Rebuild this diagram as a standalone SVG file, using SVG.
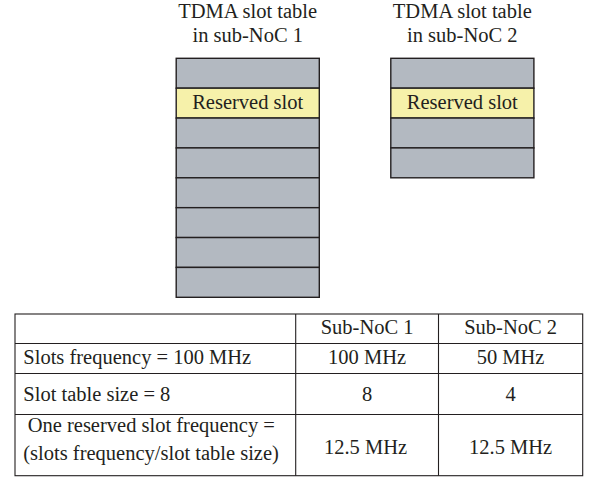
<svg xmlns="http://www.w3.org/2000/svg" width="589" height="477" viewBox="0 0 589 477">
  <style>
    text { font-family: "Liberation Serif", "Times New Roman", serif; font-size: 20.5px; fill: #231f20; }
    .mid { text-anchor: middle; }
    .slot { fill: #b3b9c1; stroke: #231f20; stroke-width: 1.4; }
    .reserved { fill: #f6f1aa; stroke: #231f20; stroke-width: 1.4; }
    .grid { stroke: #231f20; stroke-width: 1.1; fill: none; }
  </style>
  <rect width="589" height="477" fill="#ffffff"/>

  <!-- slot table of sub-NoC 1: eight slots, the second one reserved -->
  <g id="slot-table-1">
    <text class="mid" x="247.7" y="18.3">TDMA slot table</text>
    <text class="mid" x="247.7" y="41.7">in sub-NoC 1</text>
    <rect class="slot" x="176.2" y="58.3" width="143.1" height="29.875"/>
    <rect class="reserved" x="176.2" y="88.175" width="143.1" height="29.875"/>
    <rect class="slot" x="176.2" y="118.05" width="143.1" height="29.875"/>
    <rect class="slot" x="176.2" y="147.925" width="143.1" height="29.875"/>
    <rect class="slot" x="176.2" y="177.8" width="143.1" height="29.875"/>
    <rect class="slot" x="176.2" y="207.675" width="143.1" height="29.875"/>
    <rect class="slot" x="176.2" y="237.55" width="143.1" height="29.875"/>
    <rect class="slot" x="176.2" y="267.425" width="143.1" height="29.875"/>
    <text class="mid" x="247.7" y="109">Reserved slot</text>
  </g>

  <!-- slot table of sub-NoC 2: four slots, the second one reserved -->
  <g id="slot-table-2">
    <text class="mid" x="462.3" y="18.3">TDMA slot table</text>
    <text class="mid" x="462.3" y="41.7">in sub-NoC 2</text>
    <rect class="slot" x="390.8" y="58.3" width="143.1" height="29.875"/>
    <rect class="reserved" x="390.8" y="88.175" width="143.1" height="29.875"/>
    <rect class="slot" x="390.8" y="118.05" width="143.1" height="29.875"/>
    <rect class="slot" x="390.8" y="147.925" width="143.1" height="29.875"/>
    <text class="mid" x="462.3" y="109">Reserved slot</text>
  </g>

  <!-- comparison table -->
  <g id="frequency-table">
    <rect class="grid" x="15" y="314" width="567.7" height="161.7"/>
    <line class="grid" x1="15" y1="343.5" x2="582.7" y2="343.5"/>
    <line class="grid" x1="15" y1="373.5" x2="582.7" y2="373.5"/>
    <line class="grid" x1="15" y1="414.5" x2="582.7" y2="414.5"/>
    <line class="grid" x1="295.7" y1="314" x2="295.7" y2="475.7"/>
    <line class="grid" x1="438.5" y1="314" x2="438.5" y2="475.7"/>

    <text class="mid" x="367.1" y="333.5">Sub-NoC 1</text>
    <text class="mid" x="510.6" y="333.5">Sub-NoC 2</text>

    <text x="23.3" y="363.5">Slots frequency = 100 MHz</text>
    <text class="mid" x="367.1" y="364.3">100 MHz</text>
    <text class="mid" x="510.6" y="364.3">50 MHz</text>

    <text x="23.3" y="400.7">Slot table size = 8</text>
    <text class="mid" x="367.1" y="400.5">8</text>
    <text class="mid" x="510.6" y="400.5">4</text>

    <text x="27.7" y="431.7">One reserved slot frequency =</text>
    <text x="23.3" y="460">(slots frequency/slot table size)</text>
    <text class="mid" x="365.5" y="454">12.5 MHz</text>
    <text class="mid" x="510.6" y="454">12.5 MHz</text>
  </g>
</svg>
